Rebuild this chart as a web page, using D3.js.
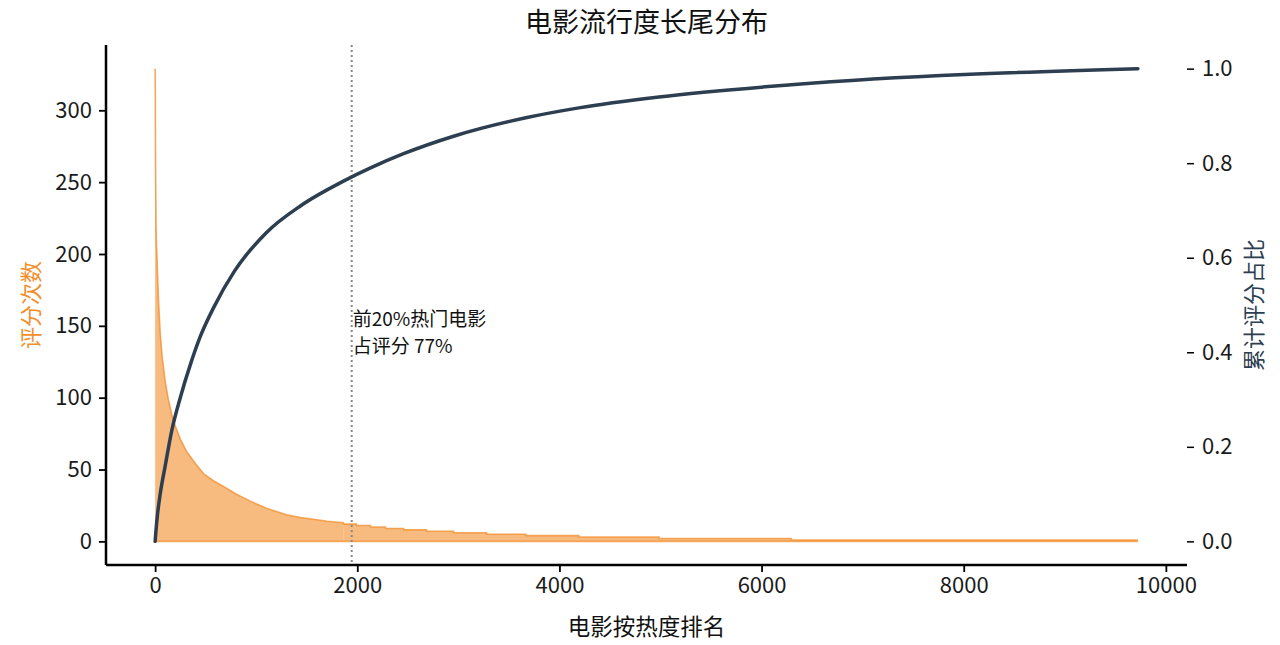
<!DOCTYPE html>
<html>
	<head>
		<meta charset="utf-8" />
		<script type="text/javascript" src="https://cdn.jsdelivr.net/npm/d3@7"></script>
		<style>
body {
	margin: 0;
	background-color: white;
}

text {
	font-family: "Noto Sans CJK SC", "Noto Sans", sans-serif;
}

.axis path.domain {
	stroke: black;
	stroke-width: 2.5;
}

.axis line {
	stroke: black;
	stroke-width: 1.8;
}

.axis text {
	font-size: 22px;
	fill: #1a1a1a;
}
		</style>
	</head>
	<body>
		<script>

// head of the curve: rank -> rating count
var headRank  = [0, 1, 2, 3, 5, 7, 9, 13, 18, 23, 35, 50, 70, 100, 130, 165, 200, 250, 315, 400, 480, 580, 680, 800, 942, 1100, 1300, 1440, 1600, 1700, 1863];
var headCount = [329, 317, 307, 279, 251, 237, 220, 206, 198, 187, 165, 145, 128, 111, 99, 88, 80, 71, 62, 54, 47, 42, 38, 33, 28, 23, 18.5, 16.5, 15, 14, 13];

// tail of the curve: rank where the count steps down, and the new count
var tailRank  = [1863, 1992, 2131, 2279, 2458, 2686, 2953, 3280, 3667, 4192, 4985, 6293, 9723];
var tailCount = [12, 11, 10, 9, 8, 7, 6, 5, 4, 3, 2, 1, 1];

// cumulative share of ratings
var cumRank  = [0, 10, 25, 50, 100, 165, 250, 350, 450, 580, 780, 1100, 1440, 1863, 2131, 2458, 2953, 3667, 4192, 4985, 6293, 9723];
var cumShare = [0, 0.027, 0.06, 0.1, 0.16, 0.235, 0.305, 0.375, 0.435, 0.495, 0.57, 0.653, 0.71, 0.762, 0.79, 0.82, 0.857, 0.896, 0.917, 0.94, 0.966, 1.0];

var xTicks     = [0, 2000, 4000, 6000, 8000, 10000];
var leftTicks  = [0, 50, 100, 150, 200, 250, 300];
var rightTicks = [0, 0.2, 0.4, 0.6, 0.8, 1.0];

var nMovies = 9724;
var topShare = 0.2;
var topLabel = ["前20%热门电影", "占评分 77%"];

var w = 1280;
var h = 645;

var mLeft = 106, mRight = 1187, mTop = 45, mBottom = 565;

var orange = "#F28E2B";
var navy = "#2c3e50";

var svg = d3.select("body").append("svg")
	.attr("width", w)
	.attr("height", h);

var xMax = nMovies - 1;
var x = d3.scaleLinear()
	.domain([-0.05 * xMax, 1.05 * xMax])
	.range([mLeft, mRight]);

var maxCount = d3.max(headCount);
var yL = d3.scaleLinear()
	.domain([-0.05 * maxCount, 1.05 * maxCount])
	.range([mBottom, mTop]);

var yR = d3.scaleLinear()
	.domain([-0.05, 1.05])
	.range([mBottom, mTop]);

var head = headRank.map(function(r, i) { return [r, headCount[i]]; });
var tail = tailRank.map(function(r, i) { return [r, tailCount[i]]; });
var cum = cumRank.map(function(r, i) { return [r, cumShare[i]]; });

var headArea = d3.area()
	.x(function(d) { return x(d[0]); })
	.y0(yL(0))
	.y1(function(d) { return yL(d[1]); });

var tailArea = d3.area()
	.curve(d3.curveStepAfter)
	.x(function(d) { return x(d[0]); })
	.y0(yL(0))
	.y1(function(d) { return yL(d[1]); });

var g = svg.append("g");

[[headArea, head], [tailArea, tail]].forEach(function(p) {
	g.append("path")
		.attr("d", p[0](p[1]))
		.style("fill", orange)
		.style("fill-opacity", 0.6)
		.style("stroke", "none");
});

// edge of the filled area: top line and baseline
var headTop = headArea.lineY1();
var tailTop = tailArea.lineY1();
g.append("path")
	.attr("d", headTop(head) + tailTop(tail).replace(/^M/, "L"))
	.style("fill", "none")
	.style("stroke", orange)
	.style("stroke-opacity", 0.75)
	.style("stroke-width", 1.6);

g.append("line")
	.attr("x1", x(0)).attr("x2", x(xMax))
	.attr("y1", yL(0)).attr("y2", yL(0))
	.style("stroke", orange)
	.style("stroke-opacity", 0.75)
	.style("stroke-width", 1.6);

// top 20% marker
var xCut = x(nMovies * topShare);
g.append("line")
	.attr("x1", xCut).attr("x2", xCut)
	.attr("y1", mTop).attr("y2", mBottom)
	.style("stroke", "#888")
	.style("stroke-width", 2)
	.style("stroke-dasharray", "2,3");

// cumulative curve
var line = d3.line()
	.curve(d3.curveMonotoneX)
	.x(function(d) { return x(d[0]); })
	.y(function(d) { return yR(d[1]); });

g.append("path")
	.attr("d", line(cum))
	.style("fill", "none")
	.style("stroke", navy)
	.style("stroke-width", 3.5)
	.style("stroke-linecap", "round");

var note = g.append("text")
	.attr("x", xCut + 1)
	.attr("y", yR(0.4) + 1)
	.style("font-size", "19px")
	.style("fill", "#111");
note.selectAll("tspan").data(topLabel).enter().append("tspan")
	.attr("x", xCut + 1)
	.attr("dy", function(d, i) { return i == 0 ? -27 : 27; })
	.text(function(d) { return d; });

// axes
var xAxis = svg.append("g").attr("class", "axis")
	.attr("transform", "translate(0," + mBottom + ")")
	.call(d3.axisBottom(x).tickValues(xTicks).tickSize(7).tickPadding(5).tickSizeOuter(0).tickFormat(d3.format("d")));

var lAxis = svg.append("g").attr("class", "axis")
	.attr("transform", "translate(" + mLeft + ",0)")
	.call(d3.axisLeft(yL).tickValues(leftTicks).tickSize(7).tickPadding(7).tickSizeOuter(0));

var rAxis = svg.append("g").attr("class", "axis")
	.attr("transform", "translate(" + mRight + ",0)")
	.call(d3.axisRight(yR).tickValues(rightTicks).tickSize(7).tickPadding(8).tickFormat(d3.format(".1f")));
rAxis.select("path.domain").remove();
rAxis.selectAll("line").style("stroke-width", 1.5);

// spines run to the corner
xAxis.select("path.domain").attr("d", "M" + mLeft + ",0H" + mRight);
lAxis.select("path.domain").attr("d", "M0," + mTop + "V" + mBottom);

svg.append("text")
	.attr("x", (mLeft + mRight) / 2)
	.attr("y", 32)
	.attr("text-anchor", "middle")
	.style("font-size", "27px")
	.style("fill", "#111")
	.text("电影流行度长尾分布");

svg.append("text")
	.attr("x", (mLeft + mRight) / 2)
	.attr("y", 635)
	.attr("text-anchor", "middle")
	.style("font-size", "22.5px")
	.style("fill", "#111")
	.text("电影按热度排名");

svg.append("text")
	.attr("transform", "translate(39," + (mTop + mBottom) / 2 + ") rotate(-90)")
	.attr("text-anchor", "middle")
	.style("font-size", "22px")
	.style("fill", orange)
	.text("评分次数");

svg.append("text")
	.attr("transform", "translate(1262," + (mTop + mBottom) / 2 + ") rotate(-90)")
	.attr("text-anchor", "middle")
	.style("font-size", "22px")
	.style("fill", navy)
	.text("累计评分占比");

		</script>
	</body>
</html>
